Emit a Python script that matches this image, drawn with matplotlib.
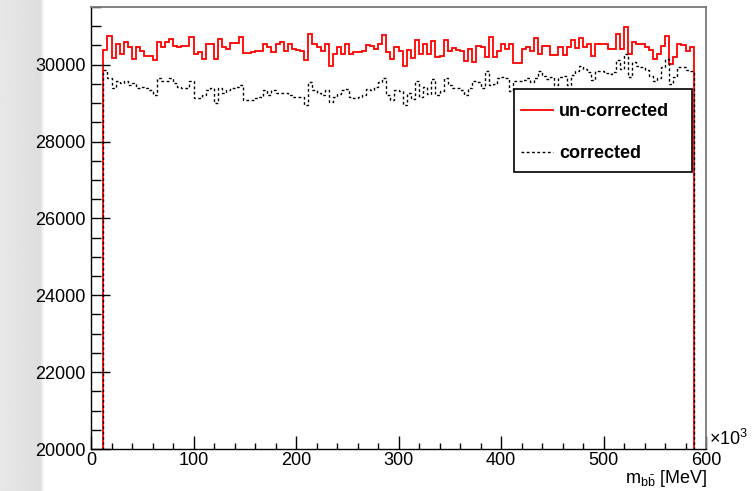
import numpy as np
import matplotlib.pyplot as plt
from matplotlib.lines import Line2D
from matplotlib.patches import Rectangle
from matplotlib.ticker import MultipleLocator

plt.rcParams['font.family'] = ['Liberation Sans', 'DejaVu Sans']
plt.rcParams['mathtext.fontset'] = 'custom'
plt.rcParams['mathtext.rm'] = 'Liberation Sans'
plt.rcParams['mathtext.it'] = 'Liberation Sans:italic'

# histogram binning (x in units of 10^3 MeV)
bin_lo, bin_width, n_bins = 12, 4, 144

uncorrected = [
    30380, 30740, 30170, 30550, 30280, 30580, 30450, 30160, 30450, 30350,
    30230, 30230, 30130, 30580, 30450, 30600, 30680, 30490, 30470, 30490,
    30480, 30730, 30280, 30320, 30160, 30550, 30540, 30160, 30670, 30450,
    30410, 30560, 30560, 30730, 30300, 30300, 30320, 30350, 30350, 30540,
    30450, 30320, 30540, 30600, 30360, 30540, 30420, 30380, 30350, 30120,
    30800, 30550, 30470, 30350, 30550, 29970, 30290, 30450, 30290, 30550,
    30290, 30320, 30320, 30360, 30520, 30490, 30420, 30550, 30780, 30320,
    30150, 30450, 30360, 29970, 30380, 30170, 30640, 30280, 30540, 30280,
    30620, 30210, 30230, 30640, 30360, 30430, 30380, 30350, 30100, 30410,
    30080, 30490, 30450, 30210, 30730, 30210, 30350, 30550, 30410, 30550,
    30030, 30030, 30400, 30450, 30360, 30690, 30280, 30490, 30490, 30260,
    30260, 30450, 30260, 30450, 30640, 30430, 30690, 30450, 30550, 30230,
    30550, 30550, 30540, 30410, 30410, 30810, 30410, 30970, 30280, 30580,
    30540, 30550, 30470, 30380, 30150, 30290, 30490, 30750, 30020, 30190,
    30550, 30520, 30360, 30450,
]

corrected = [
    29860, 29640, 29380, 29580, 29510, 29580, 29460, 29530, 29380, 29430,
    29380, 29330, 29220, 29640, 29580, 29580, 29660, 29510, 29430, 29400,
    29380, 29580, 29140, 29120, 29200, 29330, 29380, 28990, 29400, 29250,
    29330, 29380, 29430, 29480, 29070, 29070, 29090, 29120, 29170, 29330,
    29200, 29330, 29250, 29270, 29270, 29200, 29170, 29170, 29150, 28940,
    29540, 29340, 29260, 29200, 29330, 29020, 29170, 29240, 29340, 29370,
    29150, 29140, 29170, 29200, 29370, 29340, 29430, 29540, 29660, 29200,
    29070, 29340, 29310, 28960, 29260, 29110, 29580, 29150, 29430, 29240,
    29630, 29200, 29310, 29660, 29460, 29400, 29400, 29340, 29220, 29400,
    29580, 29540, 29400, 29840, 29460, 29500, 29660, 29690, 29660, 29310,
    29580, 29580, 29600, 29660, 29540, 29660, 29840, 29710, 29630, 29690,
    29460, 29670, 29710, 29460, 29740, 29840, 29970, 29890, 29800, 29600,
    29840, 29840, 29770, 29760, 29800, 30120, 29890, 30290, 29670, 30060,
    29970, 29930, 29860, 29710, 29580, 29660, 29930, 30150, 29500, 29690,
    29930, 29930, 29860, 29840,
]

labels = ['un-corrected', 'corrected']

edges = bin_lo + bin_width * np.arange(n_bins + 1)

W, H = 755, 491
fig = plt.figure(figsize=(W / 100, H / 100), dpi=100)

# grey strip left of the canvas (screenshot background)
bg = fig.add_axes([0, 0, 1, 1], zorder=-5)
strip = np.concatenate([np.linspace(0.91, 0.87, 40), np.linspace(0.87, 1.0, 5)])
bg.imshow(strip[None, :], extent=[0, 45 / W, 0, 1], cmap='gray', vmin=0, vmax=1,
          aspect='auto', interpolation='bilinear')
bg.set_xlim(0, 1)
bg.set_ylim(0, 1)
bg.axis('off')

ax = fig.add_axes([91 / W, 1 - 449 / H, 615 / W, 442 / H])

red_style = dict(color='#ff0000', lw=1.3)
dash_style = dict(color='black', lw=1.0, linestyle=(0, (2.0, 1.8)))

ax.stairs(uncorrected, edges, baseline=0, **red_style)
ax.stairs(corrected, edges, baseline=0, **dash_style)

ax.set_xlim(0, 600)
ax.set_ylim(20000, 31500)

ax.xaxis.set_major_locator(MultipleLocator(100))
ax.xaxis.set_minor_locator(MultipleLocator(20))
ax.yaxis.set_major_locator(MultipleLocator(2000))
ax.yaxis.set_minor_locator(MultipleLocator(500))
ax.tick_params(which='both', direction='in', top=False, right=False,
               labelsize=13, color='black', width=1.0)
ax.tick_params(axis='x', which='major', length=9.5, pad=2.5)
ax.tick_params(axis='x', which='minor', length=4.5)
ax.tick_params(axis='y', which='major', length=13.5, pad=3.6)
ax.tick_params(axis='y', which='minor', length=7)

for side in ['left', 'bottom']:
    ax.spines[side].set_color('black')
    ax.spines[side].set_linewidth(1.0)
for side in ['top', 'right']:
    ax.spines[side].set_color('#7a7a7a')
    ax.spines[side].set_linewidth(1.3)

# exponent and axis title, ROOT style
ax.text(1.005, 0.0, r'$\mathregular{\times10^{3}}$', transform=ax.transAxes,
        ha='left', va='bottom', fontsize=13)
fig.text(707 / W, 1 - 483 / H, r'$\mathregular{m_{b\bar{b}}}$ [MeV]',
         ha='right', va='baseline', fontsize=13)

# legend box
def ax_xy(px, py):
    return (px - 91) / 615, (449 - py) / 442

x0, y0 = ax_xy(514, 172)
x1, y1 = ax_xy(692, 89)
ax.add_patch(Rectangle((x0, y0), x1 - x0, y1 - y0, transform=ax.transAxes,
                       facecolor='white', edgecolor='black', lw=1.2, zorder=5))
for (py, lab, style) in [(110, labels[0], red_style), (152, labels[1], dash_style)]:
    lx0, ly = ax_xy(521, py)
    lx1, _ = ax_xy(553, py)
    ax.add_line(Line2D([lx0, lx1], [ly, ly], transform=ax.transAxes, zorder=6, **style))
    tx, _ = ax_xy(559, py)
    ax.text(tx, ly, lab, transform=ax.transAxes, ha='left', va='center_baseline',
            fontsize=13, fontweight='bold', zorder=6)

fig.savefig('out.png', dpi=100)
